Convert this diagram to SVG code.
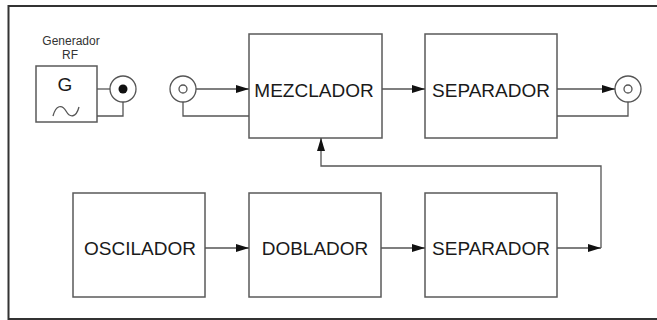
<svg xmlns="http://www.w3.org/2000/svg" width="657" height="320" viewBox="0 0 657 320">
  <style>
    .box { fill: #fff; stroke: #5a5a5a; stroke-width: 1.5; }
    .wire { fill: none; stroke: #555; stroke-width: 1.3; }
    .lbl { font-family: "Liberation Sans", Arial, sans-serif; font-size: 19px; fill: #1a1a1a; text-anchor: middle; }
    .small { font-family: "Liberation Sans", Arial, sans-serif; font-size: 12px; fill: #333; text-anchor: middle; }
  </style>
  <defs>
    <marker id="arr" viewBox="0 0 13 8" refX="13" refY="4" markerWidth="13" markerHeight="8" markerUnits="userSpaceOnUse" orient="auto">
      <path d="M0,0 L13,4 L0,8 Z" fill="#111"/>
    </marker>
  </defs>

  <rect width="657" height="320" fill="#fff"/>
  <!-- frame (open on the right) -->
  <path d="M660,6 H8.5 V319 H660" fill="none" stroke="#333" stroke-width="2"/>

  <!-- RF generator -->
  <g id="generador">
    <text class="small" x="71" y="45">Generador</text>
    <text class="small" x="70" y="59">RF</text>
    <rect class="box" x="36" y="66" width="61" height="56"/>
    <text class="lbl" x="65" y="91" font-size="20" fill="#222">G</text>
    <path d="M53,116 C56,105 62,104 66,111 C70,118 76,118 79,107" fill="none" stroke="#555" stroke-width="1.3"/>
  </g>
  <g id="conector-gen">
    <circle cx="123" cy="89" r="13" fill="#fff" stroke="#555" stroke-width="1.3"/>
    <circle cx="123" cy="89" r="4.5" fill="#111"/>
  </g>
  <g id="conector-entrada">
    <circle cx="183" cy="89" r="13" fill="#fff" stroke="#555" stroke-width="1.3"/>
    <circle cx="183" cy="89" r="4" fill="#fff" stroke="#555" stroke-width="1.3"/>
  </g>
  <g id="conector-salida">
    <circle cx="628" cy="89" r="13" fill="#fff" stroke="#555" stroke-width="1.3"/>
    <circle cx="628" cy="89" r="4" fill="#fff" stroke="#555" stroke-width="1.3"/>
  </g>

  <g id="mezclador">
    <rect class="box" x="249" y="34" width="133" height="104"/>
    <text class="lbl" x="314" y="97">MEZCLADOR</text>
  </g>
  <g id="separador1">
    <rect class="box" x="425" y="34" width="132" height="104"/>
    <text class="lbl" x="491" y="97">SEPARADOR</text>
  </g>
  <g id="oscilador">
    <rect class="box" x="73" y="193" width="132" height="104"/>
    <text class="lbl" x="140" y="255">OSCILADOR</text>
  </g>
  <g id="doblador">
    <rect class="box" x="249" y="193" width="132" height="104"/>
    <text class="lbl" x="315" y="255">DOBLADOR</text>
  </g>
  <g id="separador2">
    <rect class="box" x="425" y="193" width="132" height="104"/>
    <text class="lbl" x="491" y="255">SEPARADOR</text>
  </g>

  <g id="conexiones">
    <!-- generator to its connector -->
    <path class="wire" d="M97,89 H110"/>
    <path class="wire" d="M97,116 H123 V102"/>
    <!-- input connector to mixer -->
    <path class="wire" d="M196,89 H249" marker-end="url(#arr)"/>
    <path class="wire" d="M183,102 V116 H249"/>
    <!-- mixer to separator -->
    <path class="wire" d="M382,89 H425" marker-end="url(#arr)"/>
    <!-- separator to output connector -->
    <path class="wire" d="M557,89 H615" marker-end="url(#arr)"/>
    <path class="wire" d="M557,116 H628 V102"/>
    <!-- lower chain -->
    <path class="wire" d="M205,248 H249" marker-end="url(#arr)"/>
    <path class="wire" d="M381,248 H425" marker-end="url(#arr)"/>
    <path class="wire" d="M557,248 H601" marker-end="url(#arr)"/>
    <!-- feedback to mixer -->
    <path class="wire" d="M601,248 V166 H321 V138" marker-end="url(#arr)"/>
  </g>
</svg>
